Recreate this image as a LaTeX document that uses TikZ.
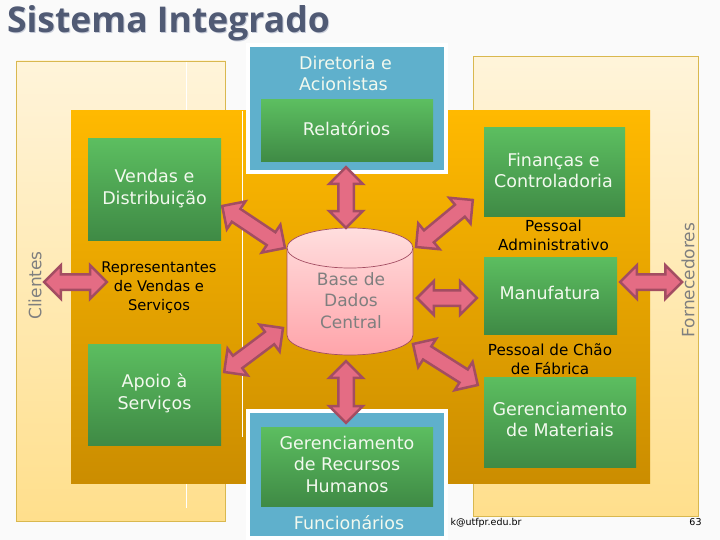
\documentclass[tikz,border=0pt]{standalone}
\usepackage{fontspec}
\setmainfont{DejaVu Sans}
\newfontfamily\titlefont{Open Sans}
\usetikzlibrary{calc,shapes.arrows}
\definecolor{paletop}{HTML}{FFF4DA}
\definecolor{palebottom}{HTML}{FFDF8C}
\definecolor{paleline}{HTML}{D9B84F}
\definecolor{orangetop}{HTML}{FFB900}
\definecolor{orangebottom}{HTML}{CB8D00}
\definecolor{bluebox}{HTML}{5FB0CC}
\definecolor{greentop}{HTML}{5CBE60}
\definecolor{greenbottom}{HTML}{3F8A45}
\definecolor{greentext}{HTML}{F2F9EE}
\definecolor{arrowfill}{HTML}{E46C84}
\definecolor{arrowline}{HTML}{A34D62}
\definecolor{titleink}{HTML}{505A74}
\definecolor{titleshade}{HTML}{C9CDD9}
\definecolor{greyink}{HTML}{7F7F7F}
\definecolor{basetop}{HTML}{FFDEDE}
\definecolor{basebottom}{HTML}{FFA4AA}
\tikzset{
    panel/.style={rectangle,inner sep=0pt,draw=paleline,line width=.7pt,top color=paletop,bottom color=palebottom},
    bluepanel/.style={rectangle,inner sep=0pt,draw=white,line width=4pt,fill=bluebox},
    greenbox/.style={rectangle,inner sep=0pt,top color=greentop,bottom color=greenbottom},
    boxtext/.style={text=greentext,align=center,font=\fontsize{17.5}{21.5}\selectfont},
    blacktext/.style={text=black,align=center,font=\fontsize{15.2}{19}\selectfont},
    greytext/.style={text=greyink,align=center,font=\fontsize{17}{21.5}\selectfont},
    smalltext/.style={text=black,font=\fontsize{9.5}{11}\selectfont},
    titletext/.style={font=\titlefont\bfseries\fontsize{35.5}{40}\selectfont,anchor=west},
    blockarrow/.style={to path={
        let \p1=($(\tikztotarget)-(\tikztostart)$), \n1={atan2(\y1,\x1)}, \n2={veclen(\x1,\y1)} in
        node[double arrow,rotate=\n1,minimum height=\n2,inner xsep=0pt,inner ysep=6.5pt,
            double arrow head extend=9pt,fill=arrowfill,draw=arrowline,line width=2.5pt]
        at ($(\tikztostart)!.5!(\tikztotarget)$) {}
    }}
}
\begin{document}
\begin{tikzpicture}[x=1pt,y=-1pt]
    \useasboundingbox (0,0) rectangle (720,540);
    \fill[white!98!black] (0,0) rectangle (720,540);

    % Title
    \node[titletext,text=titleshade] (titleshadow) at (4.5,24.5) {Sistema Integrado};
    \node[titletext,text=titleink] (title) at (3.5,23.5) {Sistema Integrado};

    % Pale panels
    \node[panel,minimum width=209pt,minimum height=460pt] (clientes) at (121,291) {};
    \node[panel,minimum width=225.5pt,minimum height=460.5pt] (fornecedores) at (586,286.5) {};
    \draw[white] (186.5,62) -- (186.5,111);
    \draw[white] (186.5,483) -- (186.5,508);

    % Orange centre
    \node[rectangle,inner sep=0pt,top color=orangetop,bottom color=orangebottom,minimum width=579pt,minimum height=372pt] (centre) at (360.5,297) {};
    \draw[white] (242.5,111) -- (242.5,437);

    % Blue panels
    \node[bluepanel,minimum width=198pt,minimum height=127pt] (diretoria) at (347,108.5) {};
    \node[bluepanel,minimum width=198pt,minimum height=127pt] (funcionarios) at (347,474.5) {};
    \fill[white] (246,536) rectangle (448,540);

    % Green boxes
    \foreach \boxname/\boxx/\boxy/\boxw/\boxh in {
        relatorios/347/131/172/62,
        vendas/154.5/189.5/133/101,
        apoio/154.5/394.5/133/101,
        financas/554.5/172.5/141/89,
        manufatura/550.5/295.5/133/77,
        materiais/560/422/152/90,
        gestao/347/466.5/172/79
    } {
        \node[greenbox,minimum width=\boxw pt,minimum height=\boxh pt] (\boxname) at (\boxx,\boxy) {};
    }

    % Labels of the green boxes
    \node[boxtext] (relatoriostext) at (346.5,129) {Relatórios};
    \node[boxtext] (vendastext) at (154.5,188.5) {Vendas e\\Distribuição};
    \node[boxtext] (apoiotext) at (154.5,393) {Apoio à\\Serviços};
    \node[boxtext] (financastext) at (553.5,170.5) {Finanças e\\Controladoria};
    \node[boxtext] (manufaturatext) at (550,293) {Manufatura};
    \node[boxtext] (materiaistext) at (560,419.5) {Gerenciamento\\de Materiais};
    \node[boxtext] (gestaotext) at (347,464) {Gerenciamento\\de Recursos\\Humanos};

    % Loose labels
    \node[boxtext,align=left] (diretoriatext) at (345.5,73.5) {Diretoria e\\Acionistas};
    \node[boxtext] (funcionariostext) at (349,523) {Funcionários};
    \node[blacktext,font=\fontsize{14.7}{19}\selectfont] (representantes) at (159,288) {Representantes\\de Vendas e\\Serviços};
    \node[blacktext] (administrativo) at (553.5,235.5) {Pessoal\\Administrativo};
    \node[blacktext] (chao) at (550,359.5) {Pessoal de Chão\\de Fábrica};
    \node[greytext,rotate=90] (clientestext) at (35,285.5) {Clientes};
    \node[greytext,rotate=90] (fornecedorestext) at (688,280) {Fornecedores};
    \node[smalltext,anchor=west] (mail) at (447,522.5) {k@utfpr.edu.br};
    \node[smalltext] (page) at (695.5,522.5) {63};

    % Database
    \node[rectangle,inner sep=0pt,minimum width=126pt,minimum height=127pt] (base) at (350,291.5) {};
    \draw[arrowline,line width=.7pt,top color=basetop,bottom color=basebottom]
        (287,248) arc[start angle=180,end angle=0,x radius=63pt,y radius=20pt]
        -- (413,335) arc[start angle=0,end angle=-180,x radius=63pt,y radius=20pt] -- cycle;
    \draw[arrowline,line width=.7pt] (287,248) arc[start angle=180,end angle=360,x radius=63pt,y radius=20pt];
    \node[greytext] (basetext) at (351,300.5) {Base de\\Dados\\Central};

    % Block arrows
    \draw[blockarrow] ([xshift=-1pt,yshift=-5pt]relatorios.south) to ([xshift=-4pt]base.north);
    \draw[blockarrow] ([xshift=-4pt,yshift=-6pt]base.south) to ([xshift=-1pt,yshift=4pt]gestao.north);
    \draw[blockarrow] ([xshift=1pt,yshift=-16.5pt]vendas.east) to ([shift={(-65,-43.5)}]base.center);
    \draw[blockarrow] ([xshift=-11pt,yshift=-27.5pt]financas.west) to ([shift={(66,-44.5)}]base.center);
    \draw[blockarrow] ([xshift=3pt,yshift=22.5pt]apoio.east) to ([shift={(-67,36.5)}]base.center);
    \draw[blockarrow] ([shift={(67,6.5)}]base.center) to ([xshift=-7pt,yshift=-2.5pt]manufatura.west);
    \draw[blockarrow] ([shift={(63,52.5)}]base.center) to ([xshift=-6pt,yshift=37pt]materiais.west);
    \draw[blockarrow] ([xshift=28pt,yshift=9pt]clientes.west) to ([xshift=9pt,yshift=6pt]representantes.west);
    \draw[blockarrow] ([xshift=3pt,yshift=13.5pt]manufatura.east) to ([xshift=-17pt,yshift=4.5pt]fornecedores.east);
\end{tikzpicture}
\end{document}
